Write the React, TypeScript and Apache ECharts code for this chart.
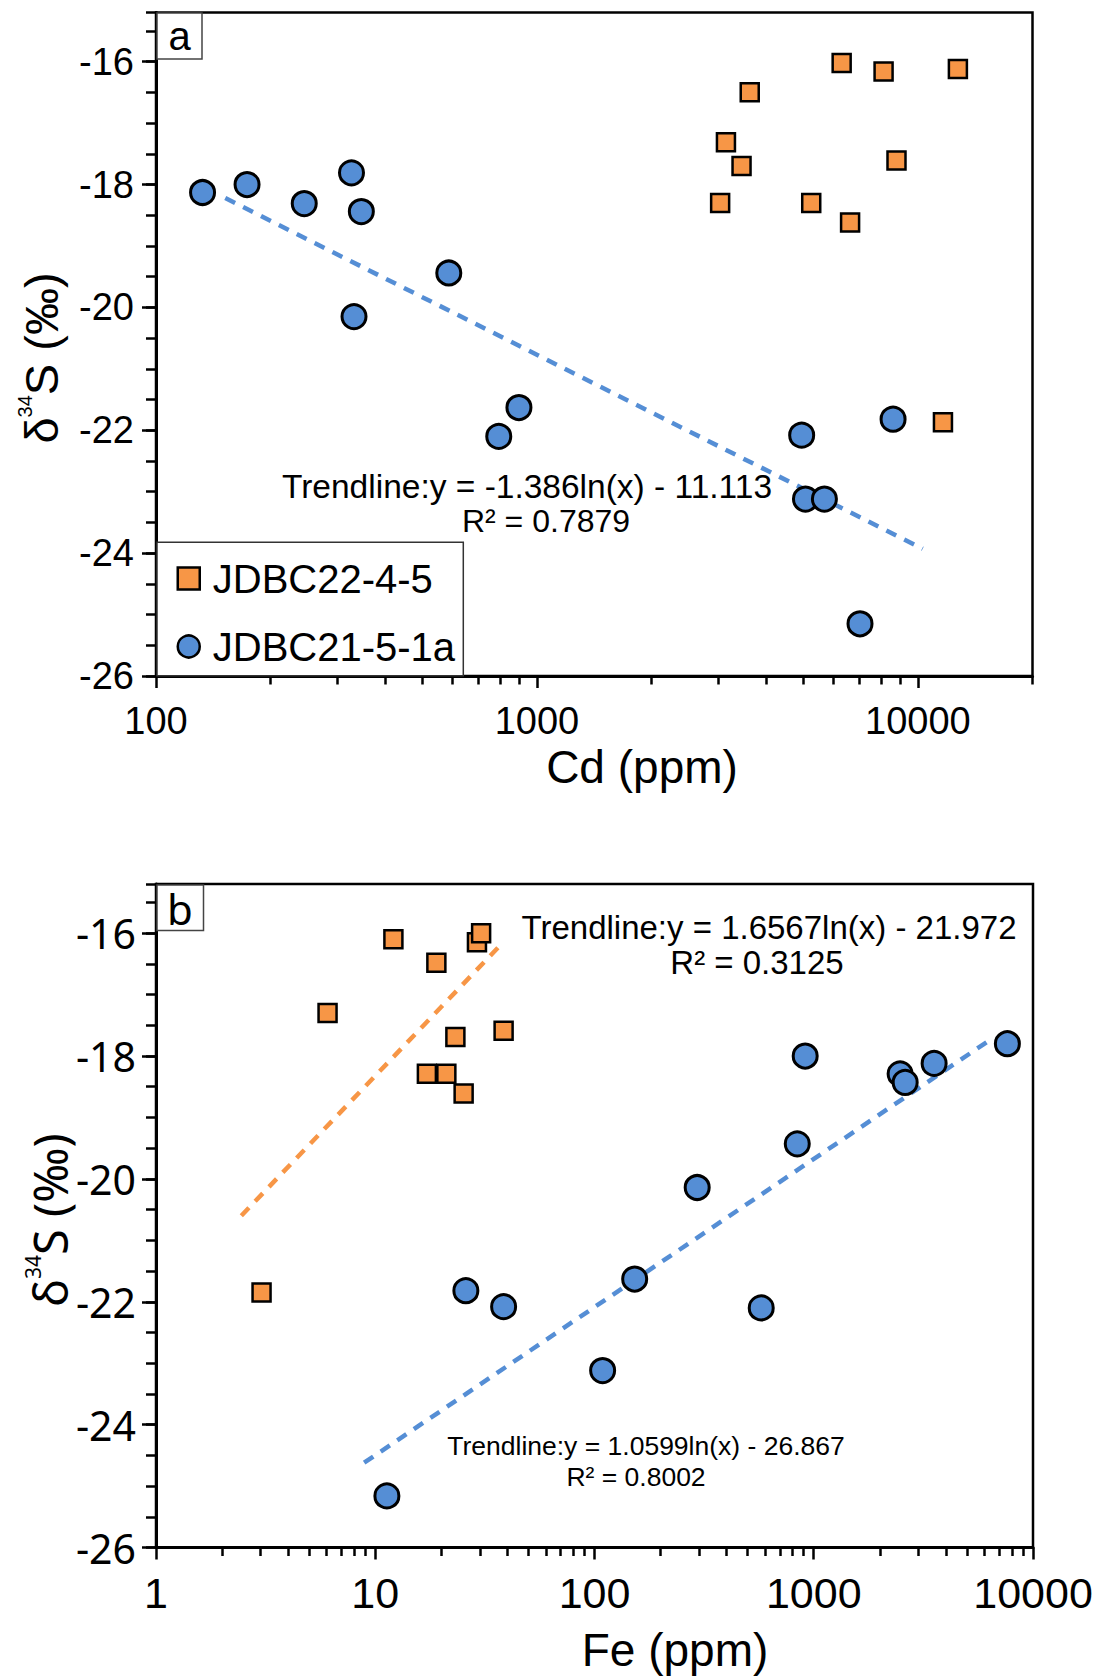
import React, { useEffect, useRef } from "react";
import * as echarts from "echarts";

// ---------- Panel a: Cd (ppm) vs d34S ----------
const cdOrange = [6310, 8130, 12740, 3620, 3135, 3445, 8790, 3027, 5250, 6640, 11640];
const d34sOrangeA = [-16.02, -16.16, -16.12, -16.5, -17.31, -17.7, -17.61, -18.3, -18.3, -18.62, -21.87];
const cdBlue = [132.5, 173.4, 245, 326, 346, 587, 331, 897, 794, 4955, 8610, 5070, 5685, 7050];
const d34sBlueA = [-18.13, -18.0, -18.31, -17.81, -18.44, -19.44, -20.15, -21.63, -22.1, -22.08, -21.82, -23.12, -23.12, -25.15];
const trendAx = [152, 10300];
const trendAy = [-18.22, -23.93];

// ---------- Panel b: Fe (ppm) vs d34S ----------
const feOrange = [12.1, 19.0, 29.1, 30.4, 6.06, 23.2, 38.5, 17.2, 21.1, 25.3, 3.03];
const d34sOrangeB = [-16.1, -16.48, -16.15, -16.0, -17.3, -17.69, -17.59, -18.29, -18.29, -18.61, -21.85];
const feBlue = [914, 2477, 2612, 3540, 7640, 841, 294, 152.5, 576, 108.9, 25.9, 38.5, 11.3];
const d34sBlueB = [-18.0, -18.29, -18.43, -18.12, -17.8, -19.43, -20.14, -21.63, -22.1, -23.12, -21.82, -22.08, -25.16];
const trendBOx = [2.45, 37.8];
const trendBOy = [-20.6, -16.17];
const trendBBx = [8.9, 6600];
const trendBBy = [-24.62, -17.7];

// ---------- Axes ----------
const yMin = -26;
const yMax = -15.2;
const xMinA = 100;
const xMaxA = 20000;
const xMinB = 1;
const xMaxB = 10000;
const minorTicksA = [200, 300, 400, 500, 600, 700, 800, 900, 2000, 3000, 4000, 5000, 6000, 7000, 8000, 9000, 20000];
const minorTicksB = [2, 3, 4, 5, 6, 7, 8, 9, 20, 30, 40, 50, 60, 70, 80, 90, 200, 300, 400, 500, 600, 700, 800, 900, 2000, 3000, 4000, 5000, 6000, 7000, 8000, 9000];

const seriesNames = ["JDBC22-4-5", "JDBC21-5-1a"];

const BLUE = "#558ED5";
const ORANGE = "#F79646";
const FONT = "'Liberation Sans', Arial, sans-serif";
const FONT_B = "'Noto Sans', sans-serif";

function zip(xs: number[], ys: number[]) {
  return xs.map((x, i) => [x, ys[i]]);
}

export default function App() {
  const ref = useRef<HTMLDivElement>(null);

  useEffect(() => {
    document.body.style.margin = "0";
    const chart = echarts.init(ref.current!, null, { renderer: "svg" });

    const mainX = (gridIndex: number, min: number, max: number, fontSize: number, margin: number, showMax: boolean) => ({
      type: "log",
      logBase: 10,
      gridIndex,
      min,
      max,
      position: "bottom",
      axisLine: { show: true, onZero: false, lineStyle: { color: "#000", width: 3 } },
      axisTick: { show: true, length: 12, lineStyle: { color: "#000", width: 2.5 } },
      axisLabel: {
        show: true,
        margin,
        fontSize,
        fontFamily: FONT,
        color: "#000",
        showMaxLabel: showMax,
        formatter: (v: number) => String(Math.round(v)),
      },
      splitLine: { show: false },
    });
    const minorX = (gridIndex: number, min: number, max: number, ticks: number[]) => ({
      type: "log",
      logBase: 10,
      gridIndex,
      min,
      max,
      position: "bottom",
      axisLine: { show: false },
      axisLabel: { show: false },
      splitLine: { show: false },
      axisTick: { show: true, length: 8.5, customValues: ticks, lineStyle: { color: "#000", width: 2.5 } },
    });
    const mainY = (gridIndex: number, fontFamily: string, fontSize: number, margin: number) => ({
      type: "value",
      gridIndex,
      min: yMin,
      max: yMax,
      interval: 2,
      position: "left",
      axisLine: { show: true, onZero: false, lineStyle: { color: "#000", width: 3 } },
      axisTick: { show: true, length: 14, lineStyle: { color: "#000", width: 2.5 } },
      axisLabel: {
        show: true,
        margin,
        fontSize,
        fontFamily,
        color: "#000",
        showMaxLabel: false,
        formatter: (v: number) => (Number.isInteger(v) ? String(v) : ""),
      },
      splitLine: { show: false },
    });
    const minorY = (gridIndex: number) => ({
      type: "value",
      gridIndex,
      min: yMin,
      max: yMax,
      interval: 0.5,
      position: "left",
      axisLine: { show: false },
      axisLabel: { show: false },
      splitLine: { show: false },
      axisTick: { show: true, length: 10, lineStyle: { color: "#000", width: 2.5 } },
    });

    const trend = (name: string, xi: number, yi: number, xs: number[], ys: number[], color: string) => ({
      type: "line",
      name,
      xAxisIndex: xi,
      yAxisIndex: yi,
      data: zip(xs, ys),
      symbol: "none",
      silent: true,
      z: 1,
      lineStyle: { color, width: 4.5, type: [11, 9] },
    });
    const scatter = (name: string, xi: number, yi: number, xs: number[], ys: number[], isSquare: boolean) => ({
      type: "scatter",
      name,
      xAxisIndex: xi,
      yAxisIndex: yi,
      data: zip(xs, ys),
      symbol: isSquare ? "rect" : "circle",
      symbolSize: isSquare ? 18 : 24,
      z: 3,
      itemStyle: {
        color: isSquare ? ORANGE : BLUE,
        borderColor: "#000",
        borderWidth: isSquare ? 2.5 : 3,
        opacity: 1,
      },
    });

    const txt = (x: number, y: number, text: string, fontSize: number, fontFamily: string = FONT, extra: any = {}) => ({
      type: "text",
      x,
      y,
      z: 10,
      silent: true,
      ...extra,
      style: {
        text,
        fontSize,
        fontFamily,
        fill: "#000",
        align: "center",
        verticalAlign: "middle",
        textAlign: "center",
        textVerticalAlign: "middle",
        ...(extra.style || {}),
      },
    });

    const option: any = {
      animation: false,
      backgroundColor: "#fff",
      grid: [
        { left: 156, top: 12.5, width: 876.5, height: 663.5, show: true, borderColor: "#000", borderWidth: 2.5, containLabel: false },
        { left: 156, top: 884, width: 877, height: 663.5, show: true, borderColor: "#000", borderWidth: 2.5, containLabel: false },
      ],
      xAxis: [
        mainX(0, xMinA, xMaxA, 38, 26, false),
        minorX(0, xMinA, xMaxA, minorTicksA),
        mainX(1, xMinB, xMaxB, 43, 24, true),
        minorX(1, xMinB, xMaxB, minorTicksB),
      ],
      yAxis: [mainY(0, FONT, 38, 22), minorY(0), mainY(1, FONT_B, 41, 20), minorY(1)],
      legend: {
        data: seriesNames,
        orient: "vertical",
        left: 176.5,
        top: 558.5,
        padding: 0,
        itemWidth: 22,
        itemHeight: 22,
        itemGap: 28,
        selectedMode: false,
        itemStyle: { borderColor: "#000", borderWidth: 2.5 },
        textStyle: { fontSize: 40, fontFamily: FONT, color: "#000", lineHeight: 40, padding: [0, 0, 0, 8] },
        z: 6,
      },
      graphic: [
        // legend frame
        { type: "rect", z: 5, silent: true, shape: { x: 157, y: 542.3, width: 306.3, height: 133.5 }, style: { fill: "#fff", stroke: "#333", lineWidth: 1.5 } },
        // panel labels
        { type: "rect", z: 5, silent: true, shape: { x: 157, y: 13, width: 45, height: 46 }, style: { fill: "#fff", stroke: "#444", lineWidth: 1.5 } },
        txt(179.5, 36, "a", 40),
        { type: "rect", z: 5, silent: true, shape: { x: 157, y: 885, width: 46.5, height: 45.5 }, style: { fill: "#fff", stroke: "#444", lineWidth: 1.5 } },
        txt(180, 908, "b", 42, FONT_B),
        // trendline equations
        txt(527, 486, "Trendline:y = -1.386ln(x) - 11.113", 33.5),
        txt(546, 521, "R² = 0.7879", 32),
        txt(769, 927, "Trendline:y = 1.6567ln(x) - 21.972", 33),
        txt(757, 962, "R² = 0.3125", 33),
        txt(646, 1446, "Trendline:y = 1.0599ln(x) - 26.867", 26.5),
        txt(636, 1476.5, "R² = 0.8002", 26.5),
        // axis names
        txt(642, 767, "Cd (ppm)", 46),
        txt(675, 1650, "Fe (ppm)", 46),
        txt(41, 358, "{m|δ}{s|34}{m|S (‰)}", 47, FONT, {
          rotation: Math.PI / 2,
          style: {
            rich: {
              m: { fontSize: 47, fontFamily: FONT, lineHeight: 52 },
              s: { fontSize: 20, fontFamily: FONT, verticalAlign: "top", lineHeight: 52 },
            },
          },
        }),
        txt(50, 1220, "{m|δ}{s|34}{m|S (‰)}", 47, FONT_B, {
          rotation: Math.PI / 2,
          style: {
            rich: {
              m: { fontSize: 47, fontFamily: FONT_B, lineHeight: 56 },
              s: { fontSize: 21, fontFamily: FONT_B, verticalAlign: "top", lineHeight: 56 },
            },
          },
        }),
      ],
      series: [
        trend("trend-a", 0, 0, trendAx, trendAy, BLUE),
        scatter(seriesNames[0], 0, 0, cdOrange, d34sOrangeA, true),
        scatter(seriesNames[1], 0, 0, cdBlue, d34sBlueA, false),
        trend("trend-b-orange", 2, 2, trendBOx, trendBOy, ORANGE),
        trend("trend-b-blue", 2, 2, trendBBx, trendBBy, BLUE),
        scatter(seriesNames[0], 2, 2, feOrange, d34sOrangeB, true),
        scatter(seriesNames[1], 2, 2, feBlue, d34sBlueB, false),
      ],
    };

    chart.setOption(option);
    return () => chart.dispose();
  }, []);

  return <div ref={ref} style={{ width: 1102, height: 1677 }} />;
}
